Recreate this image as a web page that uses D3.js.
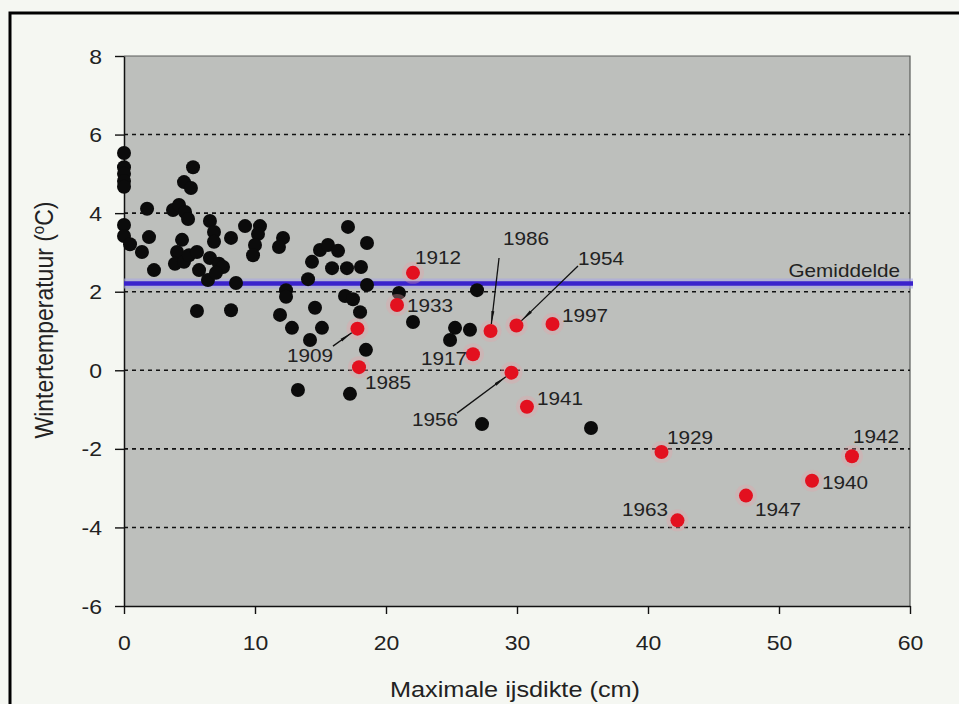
<html>
<head>
<meta charset="utf-8">
<title>IJsdikte en wintertemperatuur</title>
<style>
  body { margin: 0; background: #f5f7f2; }
  svg text { font-family: "Liberation Sans", Arial, Helvetica, sans-serif; fill: #222; }
</style>
</head>
<body>
<div id="chart"></div>
<script src="https://cdn.jsdelivr.net/npm/d3@7"></script>
<script>

// black points: max ice thickness (cm) and winter temperature (C)
var blackIce = [0, 0, 0, 0, 0, 0, 0, 0.46, 1.76, 1.91, 1.37, 2.29, 3.74, 4.2, 4.66, 4.89, 5.27, 4.58, 5.11,
	4.43, 4.05, 3.89, 4.58, 4.96, 5.57, 5.57, 5.73, 6.41, 6.56, 6.87, 6.87, 6.56, 7.25, 7.56, 7.02, 8.17,
	9.24, 8.17, 8.55, 10.38, 10.23, 10.0, 9.85, 12.14, 11.83, 12.37, 12.37, 11.91, 12.82, 14.2, 14.05,
	14.58, 15.11, 14.35, 14.96, 15.57, 16.34, 15.88, 17.1, 17.02, 18.09, 18.55, 18.55, 16.87, 17.48,
	18.02, 18.47, 13.28, 17.25, 20.99, 22.06, 26.95, 25.27, 26.41, 24.89, 27.33, 35.65];
var blackTemp = [5.53, 5.17, 5.0, 4.82, 4.67, 3.70, 3.42, 3.21, 4.11, 3.39, 3.01, 2.55, 4.08, 4.21, 4.03, 3.85, 5.17, 4.79, 4.64,
	3.32, 3.01, 2.71, 2.76, 2.93, 3.01, 1.51, 2.55, 2.30, 3.80, 3.52, 3.27, 2.86, 2.71, 2.63, 2.48, 3.37,
	3.67, 1.53, 2.22, 3.67, 3.47, 3.19, 2.93, 3.37, 3.14, 2.04, 1.87, 1.41, 1.08, 0.77, 2.32,
	1.59, 1.08, 2.76, 3.06, 3.19, 3.04, 2.60, 3.65, 2.60, 2.63, 3.24, 2.17, 1.89, 1.81,
	1.48, 0.52, -0.50, -0.60, 1.97, 1.23, 2.04, 1.08, 1.03, 0.77, -1.37, -1.47];

// red points: named winters
var redYear = ["1912", "1933", "1909", "1985", "1917", "1986", "1954", "1997", "1956", "1941", "1929", "1963", "1947", "1940", "1942"];
var redIce  = [22.06, 20.84, 17.82, 17.94, 26.64, 27.98, 29.96, 32.71, 29.58, 30.76, 41.03, 42.25, 47.48, 52.52, 55.57];
var redTemp = [2.48, 1.66, 1.06, 0.08, 0.41, 1.0, 1.14, 1.18, -0.06, -0.93, -2.08, -3.82, -3.19, -2.81, -2.19];

var meanTemp = 2.21;
var xTicks = [0, 10, 20, 30, 40, 50, 60];
var yTicks = [-6, -4, -2, 0, 2, 4, 6, 8];
var gridTicks = [-4, -2, 0, 2, 4, 6];

// label placement (pixels from the dot), and leader line start for the ones with an arrow
var labelPlace = {
	"1912": [2, -8.5, "start"], "1933": [10, 6.5, "start"], "1909": [-24.5, 33, "end"],
	"1985": [6, 21.5, "start"], "1917": [-6, 10.5, "end"], "1986": [12.5, -86.5, "start"],
	"1954": [61.5, -61, "start"], "1997": [9.5, -1.5, "start"], "1956": [-53.5, 53, "end"],
	"1941": [10, -1.5, "start"], "1929": [5.5, -8.5, "start"], "1963": [-9.5, -4, "end"],
	"1947": [9, 20.5, "start"], "1940": [10, 8.5, "start"], "1942": [1, -13, "start"]
};
var leaderFrom = { "1909": [-24.5, 17.5], "1986": [8.5, -73], "1954": [61.5, -59.5], "1956": [-54.5, 40.5] };

var width = 959, height = 704;
var stretch = 1.15;

var x = d3.scaleLinear().domain([0, 60]).range([124, 910]);
var y = d3.scaleLinear().domain([-6, 8]).range([606, 56]);

var svg = d3.select("#chart").append("svg")
	.attr("width", width)
	.attr("height", height);

svg.append("rect").attr("width", width).attr("height", height).attr("fill", "#f5f7f2");

// outer frame
svg.append("path")
	.attr("d", "M10," + height + "V13H" + width)
	.attr("fill", "none")
	.attr("stroke", "#000")
	.attr("stroke-width", 3);

var defs = svg.append("defs");
defs.append("marker")
	.attr("id", "arrow")
	.attr("markerUnits", "userSpaceOnUse")
	.attr("markerWidth", 16).attr("markerHeight", 8)
	.attr("refX", 13).attr("refY", 4)
	.attr("orient", "auto")
	.append("path")
	.attr("d", "M0,2.5L13,4L0,5.5Z")
	.attr("fill", "#111");

// plot background
svg.append("rect")
	.attr("x", x(0)).attr("y", y(8))
	.attr("width", x(60) - x(0)).attr("height", y(-6) - y(8))
	.attr("fill", "#bdbfbc");

svg.append("path")
	.attr("d", "M" + x(0) + "," + y(8) + "H" + x(60) + "V" + y(-6))
	.attr("fill", "none")
	.attr("stroke", "#5a5c5a")
	.attr("stroke-width", 1.2);

svg.append("g").selectAll("line")
	.data(gridTicks)
	.enter().append("line")
	.attr("x1", x(0)).attr("x2", x(60))
	.attr("y1", function(d) { return y(d); })
	.attr("y2", function(d) { return y(d); })
	.attr("stroke", "#111")
	.attr("stroke-width", 1.6)
	.attr("stroke-dasharray", "4,4");

// axes (plain hyphen for negatives, as in the original)
var plain = function(d) { return String(d); };
var yAxis = svg.append("g")
	.attr("transform", "translate(" + x(0) + ",0)")
	.call(d3.axisLeft(y).tickValues(yTicks).tickFormat(plain).tickSize(9).tickSizeOuter(0));
var xAxis = svg.append("g")
	.attr("transform", "translate(0," + y(-6) + ")")
	.call(d3.axisBottom(x).tickValues(xTicks).tickFormat(plain).tickSize(8).tickSizeOuter(0));

[yAxis, xAxis].forEach(function(a) {
	a.select(".domain").attr("stroke", "#111").attr("stroke-width", 1.5);
	a.selectAll(".tick line").attr("stroke", "#111").attr("stroke-width", 1.4);
	a.selectAll(".tick text")
		.attr("font-size", 20)
		.attr("fill", "#1e1e1e")
		.attr("x", 0).attr("y", 0).attr("dy", 0);
});
yAxis.selectAll(".tick text")
	.attr("transform", "translate(-22,7) scale(" + stretch + ",1)");
xAxis.selectAll(".tick text")
	.attr("transform", "translate(0,43.5) scale(" + stretch + ",1)");

// mean line
svg.append("line")
	.attr("x1", x(0)).attr("x2", x(60) + 3)
	.attr("y1", y(meanTemp)).attr("y2", y(meanTemp))
	.attr("stroke", "#a9a9e4").attr("stroke-opacity", 0.6)
	.attr("stroke-width", 10);
svg.append("line")
	.attr("x1", x(0)).attr("x2", x(60) + 3)
	.attr("y1", y(meanTemp)).attr("y2", y(meanTemp))
	.attr("stroke", "#3a22cc")
	.attr("stroke-width", 4.5);

function stretchText(g, px, py, str, size, anchor) {
	return g.append("text")
		.attr("transform", "translate(" + px + "," + py + ") scale(" + stretch + ",1)")
		.attr("font-size", size)
		.attr("text-anchor", anchor)
		.text(str);
}

stretchText(svg, 900, 276.5, "Gemiddelde", 18, "end").attr("fill", "#2a2a2a");

// black dots
var blackData = blackIce.map(function(v, i) { return [v, blackTemp[i]]; });
svg.append("g").selectAll("circle")
	.data(blackData)
	.enter().append("circle")
	.attr("cx", function(d) { return x(d[0]); })
	.attr("cy", function(d) { return y(d[1]); })
	.attr("r", 7)
	.attr("fill", "#0b0b0b");

// red dots with soft halo
var redData = redYear.map(function(yr, i) { return { year: yr, ice: redIce[i], temp: redTemp[i] }; });
var red = svg.append("g");
red.selectAll("circle.halo")
	.data(redData)
	.enter().append("circle")
	.attr("class", "halo")
	.attr("cx", function(d) { return x(d.ice); })
	.attr("cy", function(d) { return y(d.temp); })
	.attr("r", 11)
	.attr("fill", "#e6a3a8")
	.attr("opacity", 0.35);
red.selectAll("circle.dot")
	.data(redData)
	.enter().append("circle")
	.attr("class", "dot")
	.attr("cx", function(d) { return x(d.ice); })
	.attr("cy", function(d) { return y(d.temp); })
	.attr("r", 7)
	.attr("fill", "#e3101f");

// leader lines
var leaders = svg.append("g");
redData.forEach(function(d) {
	var f = leaderFrom[d.year];
	if (!f) return;
	var cx = x(d.ice), cy = y(d.temp);
	var len = Math.sqrt(f[0] * f[0] + f[1] * f[1]);
	var ex = cx + f[0] * 7 / len, ey = cy + f[1] * 7 / len;
	leaders.append("line")
		.attr("x1", cx + f[0]).attr("y1", cy + f[1])
		.attr("x2", ex).attr("y2", ey)
		.attr("stroke", "#111")
		.attr("stroke-width", 1.3)
		.attr("marker-end", "url(#arrow)");
});

// year labels
var labels = svg.append("g");
redData.forEach(function(d) {
	var p = labelPlace[d.year];
	stretchText(labels, x(d.ice) + p[0], y(d.temp) + p[1], d.year, 18, p[2]);
});

// axis titles
stretchText(svg, 515, 697, "Maximale ijsdikte (cm)", 22, "middle");

var yTitle = svg.append("text")
	.attr("transform", "translate(53,320) rotate(-90) scale(1," + stretch + ")")
	.attr("font-size", 23)
	.attr("text-anchor", "middle");
yTitle.append("tspan").text("Wintertemperatuur (");
yTitle.append("tspan").attr("font-size", 15).attr("dy", -8).text("o");
yTitle.append("tspan").attr("dy", 8).text("C)");

</script>
</body>
</html>
